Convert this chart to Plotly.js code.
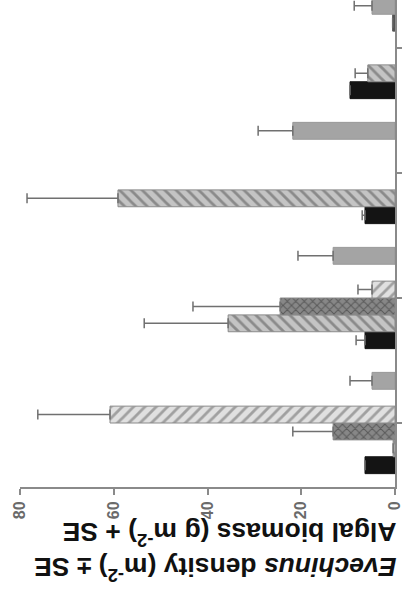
<!DOCTYPE html>
<html>
<head>
<meta charset="utf-8">
<script src="https://cdn.plot.ly/plotly-3.0.1.min.js"></script>
<style>
  html, body { margin: 0; padding: 0; background: #fff; }
  #chart { width: 405px; height: 589px; }
</style>
</head>
<body>
<div id="chart"></div>
<script>
// Categories (bottom to top as drawn)
const categories = ["Site 4", "Site 3", "Site 2", "Site 1"];

// Series values (same order as categories); null = no bar
const blackVals   = [6.4, 6.4, 6.4, 9.6];
const blackErr    = [0, 1.9, 0.6, 0];
const hatchVals   = [0.4, 35.6, 59.1, 5.8];
const hatchErr    = [0, 17.9, 19.4, 2.7];
const crossVals   = [13.2, 24.5, null, null];
const crossErr    = [8.6, 18.6, 0, 0];
const lightVals   = [60.8, 4.9, null, null];
const lightErr    = [15.4, 3.0, 0, 0];
const extraVals   = [null, null, null, 0.5];
const extraErr    = [0, 0, 0, 0];
const grayVals    = [4.9, 13.2, 21.8, 4.9];
const grayErr     = [4.7, 7.5, 7.4, 3.8];

const xTicks = [0, 20, 40, 60, 80];

function errX(arr) {
  return {
    type: 'data', symmetric: false, array: arr,
    arrayminus: arr.map(() => 0),
    color: '#707070', thickness: 1.5, width: 5
  };
}

function bar(vals, errs, marker, name) {
  return {
    type: 'bar', orientation: 'h', name: name,
    y: categories, x: vals,
    error_x: errX(errs),
    marker: marker,
    hoverinfo: 'x'
  };
}

const outline = { color: '#8a8a8a', width: 1 };

const data = [
  bar(blackVals, blackErr, { color: '#141414', line: { color: '#141414', width: 1 } }, 'black'),
  bar(hatchVals, hatchErr, { color: '#bcbcbc', line: outline,
      pattern: { shape: '\\', bgcolor: '#c4c4c4', fgcolor: '#8a8a8a', size: 8, solidity: 0.35, fillmode: 'replace' } }, 'hatch'),
  bar(crossVals, crossErr, { color: '#828282', line: outline,
      pattern: { shape: 'x', bgcolor: '#878787', fgcolor: '#595959', size: 6, solidity: 0.3, fillmode: 'replace' } }, 'cross'),
  bar(lightVals, lightErr, { color: '#dedede', line: outline,
      pattern: { shape: '/', bgcolor: '#e0e0e0', fgcolor: '#a0a0a0', size: 8, solidity: 0.35, fillmode: 'replace' } }, 'light'),
  bar(extraVals, extraErr, { color: '#555555', line: { color: '#555555', width: 1 } }, 'extra'),
  bar(grayVals, grayErr, { color: '#a4a4a4', line: { color: '#989898', width: 1 } }, 'gray')
];

const layout = {
  width: 405, height: 589,
  margin: { l: 20, r: 10, t: 0, b: 102, pad: 0 },
  paper_bgcolor: '#ffffff', plot_bgcolor: '#ffffff',
  showlegend: false,
  barmode: 'group', bargap: 0.19, bargroupgap: 0,
  xaxis: {
    range: [80, 0],
    tickvals: xTicks,
    ticktext: xTicks.map(String),
    tickangle: -90,
    tickfont: { family: 'Liberation Sans, Arial, sans-serif', size: 16, color: '#6a6a6a', weight: 'bold' },
    ticks: 'outside', ticklen: 6, tickwidth: 2, tickcolor: '#8a8a8a',
    showline: true, linecolor: '#8a8a8a', linewidth: 2,
    showgrid: false, zeroline: false
  },
  yaxis: {
    type: 'category',
    categoryorder: 'array', categoryarray: categories,
    range: [-0.512, 3.384],
    side: 'right',
    showticklabels: false,
    ticks: 'outside', ticklen: 5, tickwidth: 1.5, tickcolor: '#8a8a8a',
    showline: true, linecolor: '#8a8a8a', linewidth: 2,
    showgrid: false, zeroline: false
  },
  annotations: [
    {
      xref: 'paper', yref: 'paper', x: 1.01, y: -0.097,
      xanchor: 'right', yanchor: 'middle', showarrow: false, textangle: 180,
      text: 'Algal biomass (g m<sup>-2</sup>) + SE',
      font: { family: 'Liberation Sans, Arial, sans-serif', size: 26.5, color: '#111', weight: 'bold' }
    },
    {
      xref: 'paper', yref: 'paper', x: 1.01, y: -0.167,
      xanchor: 'right', yanchor: 'middle', showarrow: false, textangle: 180,
      text: '<i>Evechinus</i> density (m<sup>-2</sup>) ± SE',
      font: { family: 'Liberation Sans, Arial, sans-serif', size: 26.5, color: '#111', weight: 'bold' }
    }
  ]
};

Plotly.newPlot('chart', data, layout, { displayModeBar: false, staticPlot: true });
</script>
</body>
</html>
